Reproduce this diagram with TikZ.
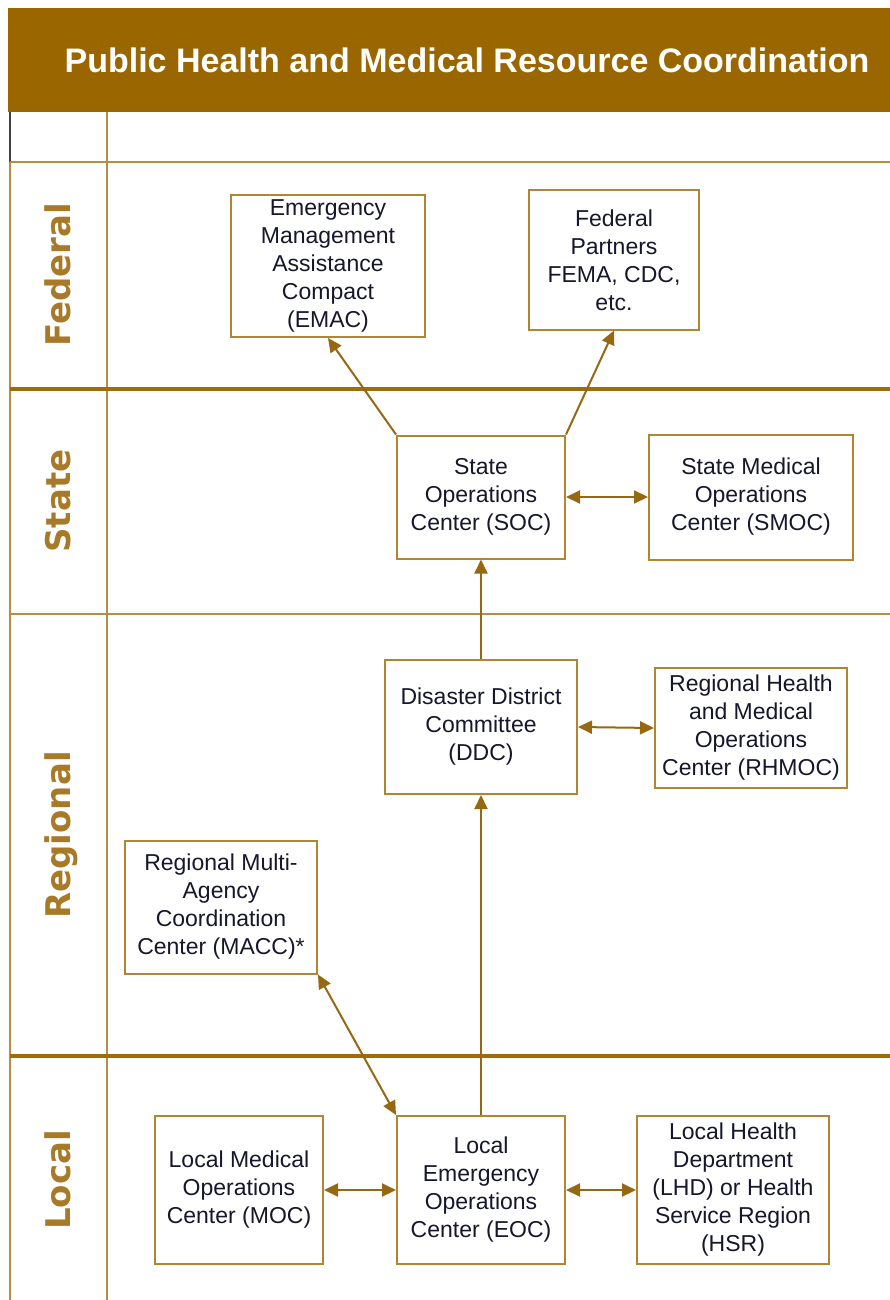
\documentclass[tikz,border=0pt]{standalone}
\usepackage{fontspec}
\setmainfont{Liberation Sans}
\newfontfamily\lanefont{DejaVu Sans}
\definecolor{phm_band}{RGB}{153, 102, 0}
\definecolor{phm_line}{RGB}{158, 108, 8}
\definecolor{phm_thin}{RGB}{182, 142, 66}
\definecolor{phm_box}{RGB}{176, 134, 50}
\definecolor{phm_arrow}{RGB}{150, 104, 18}
\definecolor{phm_lane}{RGB}{168, 122, 40}
\definecolor{phm_text}{RGB}{22, 22, 44}
\usepackage{tikz}
\usetikzlibrary{arrows.meta, positioning}

\begin{document}
\begin{tikzpicture}[x=1pt, y=-1pt,
        unitbox/.style={draw=phm_box, line width=2pt, fill=white, inner sep=0pt,
              align=center, text=phm_text, font=\fontsize{23}{28}\selectfont},
        lanelabel/.style={rotate=90, anchor=base, text=phm_lane,
              font=\lanefont\bfseries\fontsize{34}{40}\selectfont},
        thinrule/.style={draw=phm_thin, line width=2pt},
        thickrule/.style={draw=phm_line, line width=4pt},
        link/.style={-{Triangle[length=14pt, width=13pt]}, line width=2pt, draw=phm_arrow},
        twoway/.style={{Triangle[length=14pt, width=13pt]}-{Triangle[length=14pt, width=13pt]},
              line width=2pt, draw=phm_arrow}]
        \useasboundingbox[fill=white] (0,0) rectangle (890,1300);
        \fill[phm_band] (8,8) rectangle (890,112);
        \node[text=white, font=\bfseries\fontsize{34}{40}\selectfont]
              (title) at (467,60) {Public Health and Medical Resource Coordination};

        \draw[black!75, line width=2pt] (10,112) -- (10,162);
        \draw[thinrule] (10,162) -- (10,1300);
        \draw[thinrule] (107,112) -- (107,1300);
        \draw[thinrule] (10,162) -- (890,162);
        \draw[thickrule] (10,389) -- (890,389);
        \draw[thinrule] (10,614) -- (890,614);
        \draw[thickrule] (10,1056) -- (890,1056);

        \node[lanelabel] (lfed) at (70,275) {Federal};
        \node[lanelabel] (lstate) at (70,501) {State};
        \node[lanelabel] (lreg) at (70,835) {Regional};
        \node[lanelabel] (lloc) at (70,1180) {Local};

        \node[unitbox, minimum width=194pt, minimum height=142pt]
              (emac) at (328,266) {Emergency\\Management\\Assistance\\Compact\\(EMAC)};
        \node[unitbox, minimum width=170pt, minimum height=139pt]
              (fed) at (614,260) {Federal\\Partners\\FEMA, CDC,\\etc.};
        \node[unitbox, minimum width=168pt, minimum height=123pt]
              (soc) at (481,497) {State\\Operations\\Center (SOC)};
        \node[unitbox, minimum width=204pt, minimum height=125pt]
              (smoc) at (751,497) {State Medical\\Operations\\Center (SMOC)};
        \node[unitbox, minimum width=192pt, minimum height=134pt]
              (ddc) at (481,727) {Disaster District\\Committee\\(DDC)};
        \node[unitbox, minimum width=192pt, minimum height=120pt]
              (rhmoc) at (751,728) {Regional Health\\and Medical\\Operations\\Center (RHMOC)};
        \node[unitbox, minimum width=192pt, minimum height=133pt]
              (macc) at (221,907) {Regional Multi-\\Agency\\Coordination\\Center (MACC)*};
        \node[unitbox, minimum width=168pt, minimum height=148pt]
              (moc) at (239,1190) {Local Medical\\Operations\\Center (MOC)};
        \node[unitbox, minimum width=168pt, minimum height=148pt]
              (eoc) at (481,1190) {Local\\Emergency\\Operations\\Center (EOC)};
        \node[unitbox, minimum width=192pt, minimum height=148pt]
              (lhd) at (733,1190) {Local Health\\Department\\(LHD) or Health\\Service Region\\(HSR)};

        \draw[link] (soc.north west) -- (emac.south);
        \draw[link] (soc.north east) -- (fed.south);
        \draw[twoway] (soc.east) -- (smoc.west);
        \draw[link] (ddc.north) -- (soc.south);
        \draw[twoway] (ddc.east) -- (rhmoc.west);
        \draw[link] (eoc.north) -- (ddc.south);
        \draw[twoway] (macc.south east) -- (eoc.north west);
        \draw[twoway] (moc.east) -- (eoc.west);
        \draw[twoway] (eoc.east) -- (lhd.west);
      \end{tikzpicture}
\end{document}
